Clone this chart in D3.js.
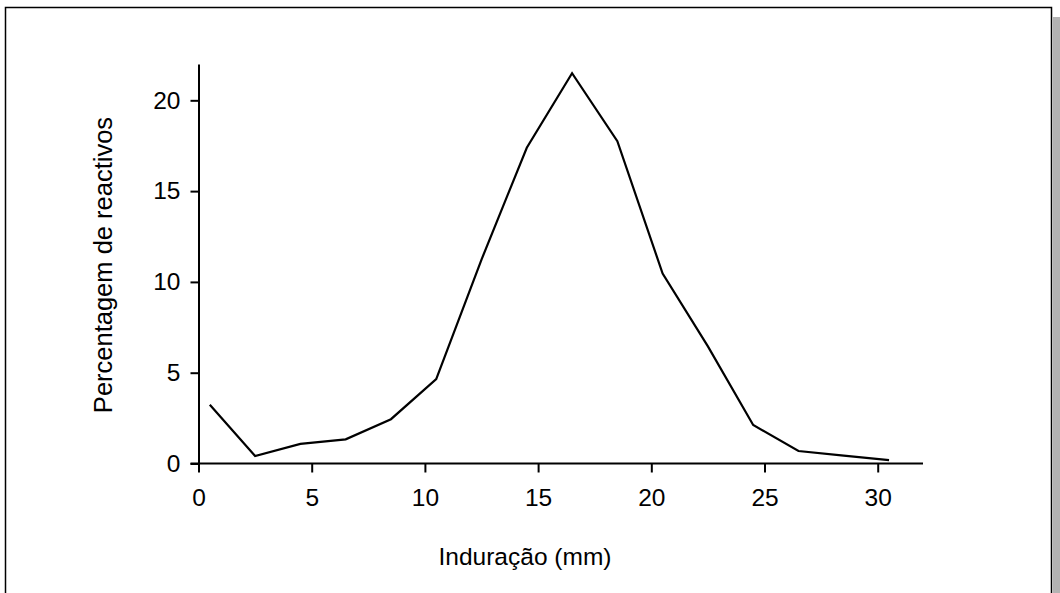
<!DOCTYPE html>
<html><head><meta charset="utf-8">
<script src="https://cdn.jsdelivr.net/npm/d3@7"></script>
<style>body{margin:0;background:#fff}svg{display:block}text{font-family:"Liberation Sans",Arial,sans-serif;fill:#000}</style>
</head><body>
<svg id="c" width="1060" height="593"></svg>
<script>
const xValues = [0.5, 2.5, 4.5, 6.5, 8.5, 10.5, 12.5, 14.5, 16.5, 18.5, 20.5, 22.5, 24.5, 26.5, 28.5, 30.5];
const yValues = [3.23, 0.41, 1.08, 1.33, 2.44, 4.65, 11.23, 17.39, 21.49, 17.75, 10.46, 6.45, 2.12, 0.69, 0.43, 0.19];
const xTicks = [0, 5, 10, 15, 20, 25, 30];
const yTicks = [0, 5, 10, 15, 20];
const xTitle = "Induração (mm)";
const yTitle = "Percentagem de reactivos";

const FS = 24.5;
const svg = d3.select("#c");
// shadow + frame
svg.append("rect").attr("x", 1053).attr("y", 17).attr("width", 10).attr("height", 600).attr("fill", "#b3b3b3");
svg.append("rect").attr("x", 5.5).attr("y", 7.5).attr("width", 1046).attr("height", 600)
  .attr("fill", "#fff").attr("stroke", "#000").attr("stroke-width", 1.5);

const x = d3.scaleLinear().domain([0, 32]).range([198.5, 923]);
const y = d3.scaleLinear().domain([0, 22]).range([463.5, 64]);

const xa = svg.append("g").attr("transform", `translate(0,${y(0)})`)
  .call(d3.axisBottom(x).tickValues(xTicks).tickSize(9).tickPadding(16).tickSizeOuter(0));
const ya = svg.append("g").attr("transform", `translate(${x(0)},0)`)
  .call(d3.axisLeft(y).tickValues(yTicks).tickSize(8).tickPadding(10).tickSizeOuter(0));
[xa, ya].forEach(a => {
  a.attr("font-size", FS).attr("font-family", '"Liberation Sans",Arial,sans-serif');
  a.select(".domain").attr("stroke", "#000").attr("stroke-width", 2);
  a.selectAll(".tick line").attr("stroke", "#000").attr("stroke-width", 2);
  a.selectAll(".tick text").style("font-size", FS + "px").attr("fill", "#000");
});
// extend x-axis line to left so the 0 tick of y meets
xa.select(".domain").attr("d", `M${x(0) - 8},0H${x(32)}`);

const line = d3.line().x((d, i) => x(xValues[i])).y(d => y(d));
svg.append("path").datum(yValues).attr("d", line).attr("fill", "none")
  .attr("stroke", "#000").attr("stroke-width", 2.2).attr("stroke-linejoin", "miter");

svg.append("text").attr("x", 525).attr("y", 565).attr("text-anchor", "middle").style("font-size", FS + "px").text(xTitle);
svg.append("text").attr("transform", "translate(112,265) rotate(-90)").attr("text-anchor", "middle").style("font-size", "25.5px").text(yTitle);
</script>
</body></html>
